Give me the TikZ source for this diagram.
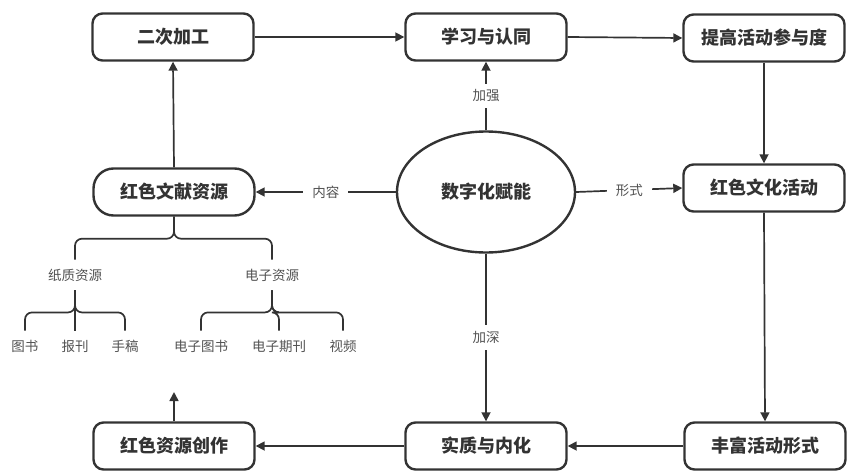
\documentclass[tikz,border=0pt]{standalone}
\usepackage{fontspec}
\setmainfont{Noto Sans CJK SC}
\usetikzlibrary{arrows.meta}
\usetikzlibrary{shapes.geometric}
\definecolor{ink}{HTML}{333333}
\tikzset{
  box/.style={draw=ink,line width=2.4pt,rounded corners=10pt,minimum width=161pt,minimum height=47pt,text=ink,font=\fontsize{18}{21}\selectfont\bfseries},
  lbl/.style={fill=white,text=ink!85,font=\fontsize{13.5}{16}\selectfont,inner xsep=9pt,inner ysep=6pt},
  twig/.style={text=ink!85,font=\fontsize{13.5}{16}\selectfont,inner xsep=2pt,inner ysep=9pt},
  link/.style={draw=ink,line width=1.7pt,-{Triangle[length=9pt,width=9pt]}},
  brace/.style={draw=ink,line width=1.7pt,rounded corners=7pt}
}

\begin{document}
\begin{tikzpicture}[x=1pt,y=-1pt]
\useasboundingbox (0,0) rectangle (849,474);
% main boxes
\node[box] (proc) at (173,37) {二次加工};
\node[box] (learn) at (486,37) {学习与认同};
\node[box] (part) at (764,38) {提高活动参与度};
\node[box,rounded corners=20pt] (doc) at (174,192) {红色文献资源};
\node[box,ellipse,minimum width=178pt,minimum height=121pt] (core) at (486,192) {数字化赋能};
\node[box] (act) at (764,188) {红色文化活动};
\node[box] (make) at (174,446) {红色资源创作};
\node[box] (essence) at (486,446) {实质与内化};
\node[box] (rich) at (765,446) {丰富活动形式};
\coordinate (up) at (174,392);
% arrows
\draw[link] (doc.north) -- (proc.south);
\draw[link] (proc.east) -- (learn.west);
\draw[link] (learn.east) -- (part.west);
\draw[link] (part.south) -- (act.north);
\draw[link] (act.south) -- (rich.north);
\draw[link] (rich.west) -- (essence.east);
\draw[link] (essence.west) -- (make.east);
\draw[link] (make.north) -- (up);
\draw[link] (core.north) -- node[lbl] {加强} (learn.south);
\draw[link] (core.west) -- node[lbl] {内容} (doc.east);
\draw[link] (core.east) -- node[lbl] {形式} (act.west);
\draw[link] (core.south) -- node[lbl] {加深} (essence.north);
% resource tree
\node[twig] (paper) at (75,275) {纸质资源};
\node[twig] (elec) at (272,275) {电子资源};
\node[twig] (book) at (25,346) {图书};
\node[twig] (press) at (75,346) {报刊};
\node[twig] (hand) at (125,346) {手稿};
\node[twig] (ebook) at (201,346) {电子图书};
\node[twig] (ejour) at (279,346) {电子期刊};
\node[twig] (video) at (343,346) {视频};
\draw[brace] (doc.south) -- ++(0,22) -| (paper.north);
\draw[brace] (doc.south) -- ++(0,22) -| (elec.north);
\draw[brace] (paper.south) -- ++(0,22) -| (book.north);
\draw[brace] (paper.south) -- ++(0,22) -| (hand.north);
\draw[brace] (paper.south) -- (press.north);
\draw[brace] (elec.south) -- ++(0,22) -| (ebook.north);
\draw[brace] (elec.south) -- ++(0,22) -| (video.north);
\draw[brace] (elec.south) -- ++(0,22) -| (ejour.north);
\end{tikzpicture}
\end{document}
